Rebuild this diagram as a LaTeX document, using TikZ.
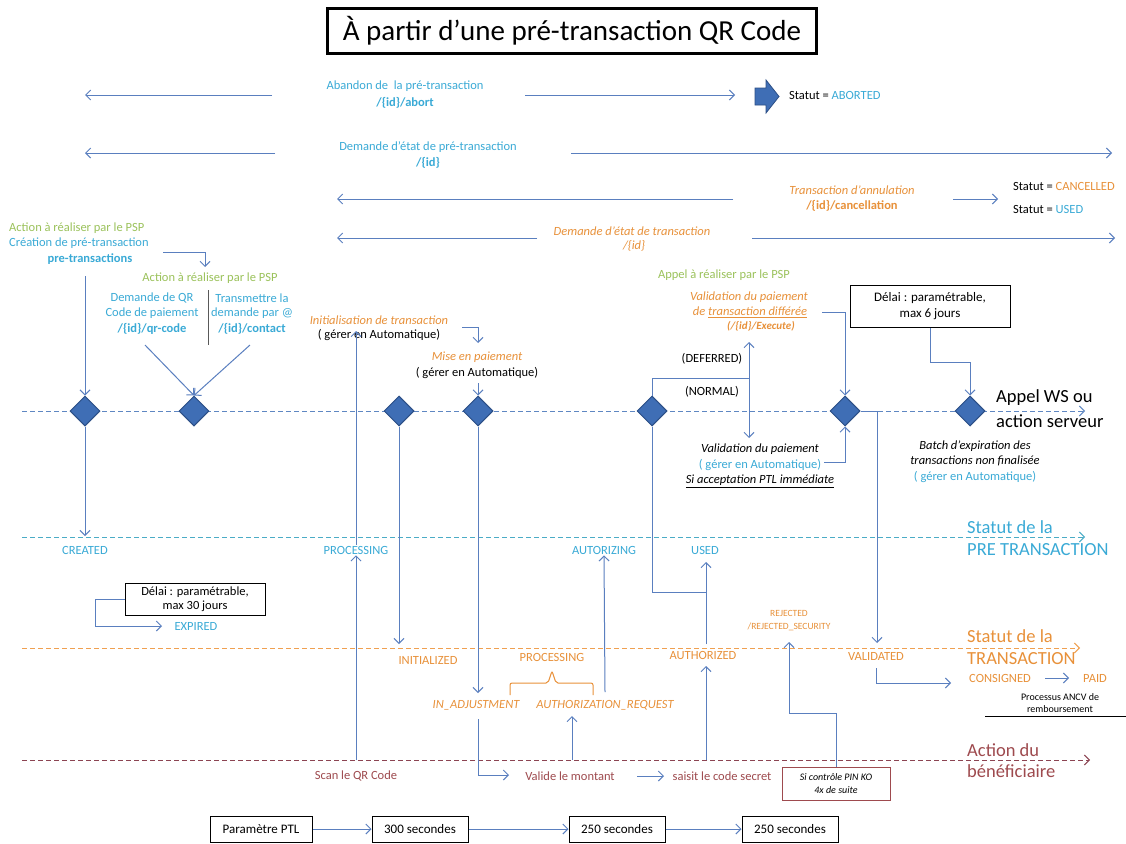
\documentclass[tikz,border=0pt]{standalone}
\usepackage{fontspec}
\setmainfont{Carlito}
\usetikzlibrary{arrows.meta,shapes.geometric}
\definecolor{lineblue}{HTML}{5A7FBF}
\definecolor{cyantext}{HTML}{3AAAD6}
\definecolor{orangetext}{HTML}{E8913A}
\definecolor{greentext}{HTML}{9BC25B}
\definecolor{maroontext}{HTML}{9E4A4E}
\definecolor{diafill}{HTML}{3F6EB5}
\definecolor{diadraw}{HTML}{2C4F86}
\definecolor{srvline}{HTML}{5F87C2}
\definecolor{cyline}{HTML}{4BACC6}
\definecolor{orline}{HTML}{F0A050}
\definecolor{acline}{HTML}{8C4452}
\newcommand{\fsm}{\fontsize{12.5}{15}\selectfont}
\tikzset{
  ln/.style={draw=lineblue, line width=1pt},
  arr/.style={ln, -{Straight Barb[length=5pt,width=10pt]}},
  dashln/.style={dash pattern=on 5pt off 3pt},
  dia/.style={diamond, fill=diafill, draw=diadraw, line width=1pt, minimum width=30pt, minimum height=30pt, inner sep=0pt},
  txt/.style={inner sep=1pt, font=\fsm},
  tcy/.style={txt, text=cyantext},
  tcyb/.style={txt, text=cyantext, font=\fsm\bfseries},
  tor/.style={txt, text=orangetext},
  tori/.style={txt, text=orangetext, font=\fsm\itshape},
  torb/.style={txt, text=orangetext, font=\fsm\bfseries},
  torbi/.style={txt, text=orangetext, font=\fontsize{11}{13}\selectfont\bfseries\itshape},
  tgr/.style={txt, text=greentext},
  tbk/.style={txt, text=black},
  tbki/.style={txt, text=black, font=\fsm\itshape},
  tma/.style={txt, text=maroontext},
  tsm/.style={inner sep=1pt, text=orangetext, font=\fontsize{9.5}{11}\selectfont},
  tsmk/.style={inner sep=1pt, text=black, font=\fontsize{10}{11}\selectfont},
  bigtxt/.style={inner sep=1pt, font=\fontsize{18.5}{21}\selectfont},
  pbox/.style={draw, line width=1pt, minimum height=26pt, inner sep=2pt, font=\fontsize{13}{15}\selectfont},
}
\begin{document}
\begin{tikzpicture}[x=1pt,y=-1pt]
\useasboundingbox[fill=white] (0,0) rectangle (1126,843);

% title
\node[draw, line width=2.8pt, minimum width=489pt, minimum height=45pt, font=\fontsize{29}{32}\selectfont] (title) at (572,31) {À partir d’une pré-transaction QR Code};

% row 1
\coordinate (r1a) at (272,95); \coordinate (r1b) at (85,95);
\coordinate (r1c) at (525,95); \coordinate (r1d) at (735,95);
\draw[arr] (r1a) -- (r1b);
\draw[arr] (r1c) -- (r1d);
\node[tcy] (ab1) at (405,86) {Abandon de\ \ la pré-transaction};
\node[tcyb] (ab2) at (405,103) {/\{id\}/abort};
\filldraw[fill=diafill, draw=diadraw, line width=0.8pt] (755,88) -- (766,88) -- (766,80) -- (779,96.5) -- (766,113) -- (766,105) -- (755,105) -- cycle;
\node[txt, anchor=west] (abst) at (788,95) {Statut = \textcolor{cyantext}{ABORTED}};

% row 2
\coordinate (r2a) at (275,153); \coordinate (r2b) at (85,153);
\coordinate (r2c) at (571,153); \coordinate (r2d) at (1112,153);
\draw[arr] (r2a) -- (r2b);
\draw[arr] (r2c) -- (r2d);
\node[tcy] (de1) at (428,147) {Demande d’état de pré-transaction};
\node[tcyb] (de2) at (428,163) {/\{id\}};

% row 3
\coordinate (r3a) at (733,199); \coordinate (r3b) at (337,199);
\coordinate (r3c) at (953,199); \coordinate (r3d) at (998,199);
\draw[arr] (r3a) -- (r3b);
\draw[arr] (r3c) -- (r3d);
\node[tori] (ta1) at (852,190) {Transaction d’annulation};
\node[torb] (ta2) at (852,206) {/\{id\}/cancellation};
\node[txt, anchor=west] (stc) at (1012,186) {Statut = \textcolor{orangetext}{CANCELLED}};
\node[txt, anchor=west] (stu) at (1012,209) {Statut = \textcolor{cyantext}{USED}};

% row 4
\coordinate (r4a) at (537,238); \coordinate (r4b) at (337,238);
\coordinate (r4c) at (752,238); \coordinate (r4d) at (1115,238);
\draw[arr] (r4a) -- (r4b);
\draw[arr] (r4c) -- (r4d);
\node[tori] (dt1) at (632,231) {Demande d’état de transaction};
\node[tori] (dt2) at (634,246) {/\{id\}};

% server line
\coordinate (sl0) at (22,411); \coordinate (sl1) at (1085,411);
\draw[arr, draw=srvline, dashln] (sl0) -- (sl1);
\node[dia] (d1) at (85,411) {};
\node[dia] (d2) at (194,411) {};
\node[dia] (d3) at (399,411) {};
\node[dia] (d4) at (478,411) {};
\node[dia] (d5) at (652,411) {};
\node[dia] (d6) at (845,411) {};
\node[dia] (d7) at (970,411) {};

% left block
\node[tgr, anchor=west] (psp1) at (8,228) {Action à réaliser par le PSP};
\node[tcy, anchor=west] (cr1) at (8,243) {Création de pré-transaction};
\node[tcyb] (cr2) at (90,259) {pre-transactions};
\coordinate (c1) at (85,276);
\draw[arr] (c1) -- (d1.north);
\coordinate (c2a) at (163,252); \coordinate (c2b) at (205,267);
\draw[arr] (c2a) -| (c2b);
\node[tgr] (psp2) at (210,278) {Action à réaliser par le PSP};
\node[tcy] (qr1) at (152,298) {Demande de QR};
\node[tcy] (qr2) at (152,313) {Code de paiement};
\node[tcyb] (qr3) at (152,329) {/\{id\}/qr-code};
\node[tcy] (ct1) at (252,298) {Transmettre la};
\node[tcy] (ct2) at (252,313) {demande par @};
\node[tcyb] (ct3) at (252,329) {/\{id\}/contact};
\coordinate (sepa) at (208,290); \coordinate (sepb) at (208,345);
\draw[draw=gray!70!black, line width=0.8pt] (sepa) -- (sepb);
\coordinate (qra) at (145,345); \coordinate (cta) at (250,345);
\draw[arr] (qra) -- (d2.north);
\draw[arr] (cta) -- (d2.north);

% middle block
\node[tori] (in1) at (379,320) {Initialisation de transaction};
\node[tbk] (in2) at (379,335) {( gérer en Automatique)};
\coordinate (m1a) at (462,327); \coordinate (m1b) at (478,343);
\draw[arr] (m1a) -| (m1b);
\node[tori] (mp1) at (477,357) {Mise en paiement};
\node[tbk] (mp2) at (477,373) {( gérer en Automatique)};
\coordinate (m2a) at (478,383);
\draw[arr] (m2a) -- (d4.north);

% right-middle block
\node[tgr] (ap) at (724,275) {Appel à réaliser par le PSP};
\node[tori] (vp1) at (749,297) {Validation du paiement};
\node[tori] (vp2) at (750,312) {de \underline{transaction différée}};
\node[torbi] (vp3) at (761,326) {(/\{id\}/Execute)};
\coordinate (e1) at (822,312);
\draw[arr] (e1) -| (d6.north);
\coordinate (j6) at (749,378);
\draw[ln] (d5.north) |- (j6);
\coordinate (j6u) at (749,342); \coordinate (j6d) at (749,438);
\draw[arr] (j6) -- (j6u);
\draw[arr] (j6) -- (j6d);
\node[tbk] (def) at (712,359) {(DEFERRED)};
\node[tbk] (nor) at (712,392) {(NORMAL)};
\node[tbki] (va1) at (760,449) {Validation du paiement};
\node[tcy] (va2) at (760,465) {( gérer en Automatique)};
\node[tbki] (va3) at (760,481) {\underline{Si acceptation PTL immédiate}};
\coordinate (v1) at (824,462);
\draw[arr] (v1) -| (d6.south);

\node[draw, line width=1pt, minimum width=160pt, minimum height=42pt, align=center, inner sep=2pt, font=\fontsize{13}{16}\selectfont] (b6) at (930,306) {Délai : paramétrable,\\max 6 jours};
\coordinate (b6j) at (970,362);
\draw[arr] (b6.south) |- (b6j) -- (d7.north);
\node[bigtxt, anchor=west] (ws1) at (995,398) {Appel WS ou};
\node[bigtxt, anchor=west] (ws2) at (995,421) {action serveur};
\node[tbki] (bt1) at (975,446) {Batch d’expiration des};
\node[tbki] (bt2) at (975,461) {transactions non finalisée};
\node[tcy] (bt3) at (975,477) {( gérer en Automatique)};

% pre-transaction line
\coordinate (pl0) at (22,537); \coordinate (pl1) at (1085,537);
\draw[arr, draw=cyline, dashln] (pl0) -- (pl1);
\node[bigtxt, text=cyantext, anchor=west] (pt1) at (966,527) {Statut de la};
\node[bigtxt, text=cyantext, anchor=west] (pt2) at (966,550) {PRE TRANSACTION};
\node[tcy] (created) at (85,550) {CREATED};
\node[tcy] (procp) at (356,550) {PROCESSING};
\node[tcy] (autz) at (604,550) {AUTORIZING};
\node[tcy] (used) at (705,550) {USED};
\coordinate (c1e) at (85,536);
\draw[arr] (d1.south) -- (c1e);

\node[draw, line width=1pt, minimum width=140pt, minimum height=32pt, align=center, inner sep=2pt, font=\fontsize{12.5}{14}\selectfont] (b30) at (195,599) {Délai : paramétrable,\\max 30 jours};
\node[tcy] (expired) at (196,626) {EXPIRED};
\coordinate (b30j) at (95,599); \coordinate (b30e) at (162,626);
\draw[arr] (b30.west) -- (b30j) |- (b30e);

% transaction line
\coordinate (tl0) at (22,648); \coordinate (tl1) at (1080,648);
\draw[arr, draw=orline, dashln] (tl0) -- (tl1);
\node[bigtxt, text=orangetext, anchor=west] (tr1) at (966,636) {Statut de la};
\node[bigtxt, text=orangetext, anchor=west] (tr2) at (966,659) {TRANSACTION};
\node[tor] (initz) at (428,660) {INITIALIZED};
\node[tor] (proct) at (552,657) {PROCESSING};
\node[tor] (authd) at (703,655) {AUTHORIZED};
\node[tor] (valid) at (876,656) {VALIDATED};
\node[tsm] (rej1) at (789,613) {REJECTED};
\node[tsm] (rej2) at (789,627) {/REJECTED\_SECURITY};
\draw[draw=orangetext, line width=1pt, rounded corners=2pt] (510,695) -- (510,683) -- (548,683) -- (552,671) -- (556,683) -- (593,683) -- (593,695);
\node[tori] (inadj) at (476,705) {IN\_ADJUSTMENT};
\node[tori] (authreq) at (605,705) {AUTHORIZATION\_REQUEST};

% action line
\coordinate (al0) at (22,760); \coordinate (al1) at (1090,760);
\draw[arr, draw=acline, dashln] (al0) -- (al1);
\node[bigtxt, text=maroontext, anchor=west] (ac1) at (966,750) {Action du};
\node[bigtxt, text=maroontext, anchor=west] (ac2) at (966,771) {bénéficiaire};
\node[tma] (scan) at (356,776) {Scan le QR Code};
\node[tma] (valide) at (570,776) {Valide le montant};
\node[tma] (saisit) at (722,776) {saisit le code secret};
\coordinate (vs1) at (637,776); \coordinate (vs2) at (664,776);
\draw[arr] (vs1) -- (vs2);

% vertical connectors
\coordinate (p1) at (356,760); \coordinate (p2) at (356,331);
\draw[arr] (p1) -- (procp.south);
\draw[arr] (procp.north) -- (p2);
\coordinate (i1) at (399,644);
\draw[arr] (d3.south) -- (i1);
\coordinate (ia1) at (478,693);
\draw[arr] (d4.south) -- (ia1);
\coordinate (ia2) at (478,719); \coordinate (ia3) at (509,775);
\draw[arr] (ia2) |- (ia3);
\coordinate (ar1) at (572,760); \coordinate (ar2) at (572,716);
\draw[arr] (ar1) -- (ar2);
\coordinate (ar3) at (605,692);
\draw[arr] (ar3) -- (autz.south);
\coordinate (au1) at (706,760); \coordinate (au2) at (706,666);
\coordinate (au3) at (706,644); \coordinate (au4) at (706,562);
\draw[arr] (au1) -- (au2);
\draw[arr] (au3) -- (au4);
\coordinate (j5) at (706,592);
\draw[ln] (d5.south) |- (j5);
\coordinate (vd) at (877,643);
\draw[arr] (d6.east) -| (vd);

\node[draw=maroontext, line width=0.8pt, minimum width=108pt, minimum height=33pt, align=center, inner sep=2pt, font=\fontsize{10}{13}\selectfont\itshape] (pin) at (836,784) {Si contrôle PIN KO\\4x de suite};
\coordinate (rj1) at (789,713); \coordinate (rj2) at (789,642);
\draw[arr] (pin.north) |- (rj1) -- (rj2);

\node[tor] (consigned) at (1000,678) {CONSIGNED};
\node[tor] (paid) at (1095,678) {PAID};
\coordinate (cs0) at (876,668); \coordinate (cs1) at (951,683);
\draw[arr] (cs0) |- (cs1);
\coordinate (cp1) at (1045,678); \coordinate (cp2) at (1069,678);
\draw[arr] (cp1) -- (cp2);
\node[tsmk] (anc1) at (1060,697) {Processus ANCV de};
\node[tsmk] (anc2) at (1060,709) {remboursement};
\coordinate (ul0) at (985,716); \coordinate (ul1) at (1126,716);
\draw[line width=1pt] (ul0) -- (ul1);

% bottom boxes
\node[pbox, minimum width=102pt] (ptl) at (261,829) {Paramètre PTL};
\node[pbox, minimum width=96pt] (s300) at (420,829) {300 secondes};
\node[pbox, minimum width=96pt] (s250a) at (617,829) {250 secondes};
\node[pbox, minimum width=96pt] (s250b) at (790,829) {250 secondes};
\draw[arr] (ptl.east) -- (s300.west);
\draw[arr] (s300.east) -- (s250a.west);
\draw[arr] (s250a.east) -- (s250b.west);
\end{tikzpicture}
\end{document}
